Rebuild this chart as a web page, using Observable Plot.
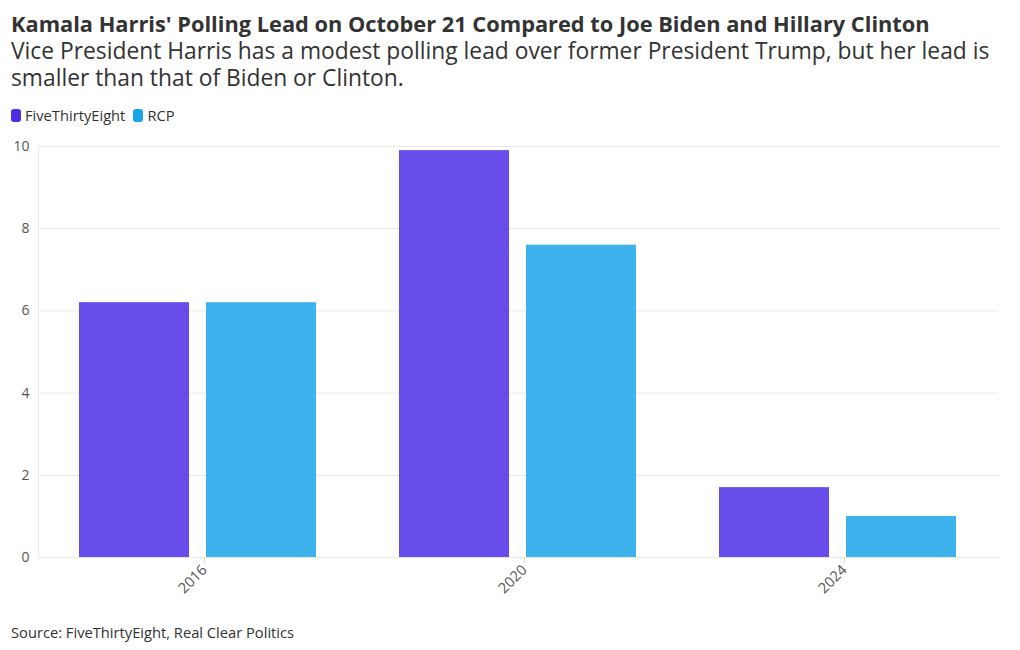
<!DOCTYPE html>
<html>
<head>
<meta charset="utf-8">
<script src="https://cdn.jsdelivr.net/npm/d3@7"></script>
<script src="https://cdn.jsdelivr.net/npm/@observablehq/plot@0.6"></script>
<style>
  body { margin: 0; background: #fff; font-family: "Open Sans", sans-serif; color: #333; }
  #wrap { width: 1020px; }
  h1 { margin: 0; padding: 10px 0 0 11px; font-size: 21.8px; font-weight: 700; color: #333; line-height: 27px; white-space: nowrap; }
  .sub { padding: 0 0 0 11px; width: 1000px; font-size: 22.8px; color: #333; line-height: 27px; }
  .legend { padding: 14px 0 0 11px; font-size: 14.7px; color: #333; display: flex; gap: 8px; align-items: center; height: 20px; }
  .legend span.item { display: inline-flex; align-items: center; gap: 4px; }
  .legend i { display: inline-block; width: 10px; height: 13px; border-radius: 3px; }
  .caption { padding: 0 0 0 11px; font-size: 14.7px; color: #333; }
</style>
</head>
<body>
<div id="wrap">
  <h1>Kamala Harris' Polling Lead on October 21 Compared to Joe Biden and Hillary Clinton</h1>
  <div class="sub">Vice President Harris has a modest polling lead over former President Trump, but her lead is smaller than that of Biden or Clinton.</div>
  <div class="legend" id="legend"></div>
  <div id="chart"></div>
  <div class="caption">Source: FiveThirtyEight, Real Clear Politics</div>
</div>
<script>
const years = ["2016", "2020", "2024"];
const sources = ["FiveThirtyEight", "RCP"];
const fiveThirtyEight = [6.2, 9.9, 1.7];
const rcp = [6.2, 7.6, 1.0];
const colors = ["#4c2de6", "#1ba4ea"];
const yTicks = [0, 2, 4, 6, 8, 10];

const data = [];
years.forEach((y, i) => {
  data.push({year: y, source: sources[0], value: fiveThirtyEight[i]});
  data.push({year: y, source: sources[1], value: rcp[i]});
});

const legend = document.getElementById("legend");
sources.forEach((s, i) => {
  const el = document.createElement("span");
  el.className = "item";
  el.innerHTML = `<i style="background:${colors[i]}"></i>${s}`;
  legend.appendChild(el);
});

const chart = Plot.plot({
  width: 1020,
  height: 497,
  marginTop: 21,
  marginLeft: 37,
  marginRight: 22,
  marginBottom: 65,
  style: {fontFamily: "Open Sans, sans-serif", fontSize: "14px", color: "#555", background: "#fff"},
  fx: {domain: years, padding: 0, label: null},
  x: {domain: sources, axis: null, paddingInner: 0.133, paddingOuter: 0.32},
  y: {domain: [0, 10], label: null},
  color: {domain: sources, range: colors},
  marks: [
    Plot.gridY(yTicks, {stroke: "#e8e8e8", strokeOpacity: 1}),
    Plot.frame({anchor: "left", facetAnchor: "left", stroke: "#e8e8e8", strokeOpacity: 1}),
    Plot.axisY(yTicks, {tickSize: 0, tickPadding: 9, fill: "#555", fontSize: 14, label: null}),
    Plot.axisFx({anchor: "bottom", tickRotate: -45, tickSize: 6, stroke: "#ddd", fill: "#555", fontSize: 14.5, label: null, tickPadding: 4, dx: 6}),
    Plot.barY(data, {fx: "year", x: "source", y: "value", fill: "source", fillOpacity: 0.85})
  ]
});
document.getElementById("chart").appendChild(chart);
</script>
</body>
</html>
